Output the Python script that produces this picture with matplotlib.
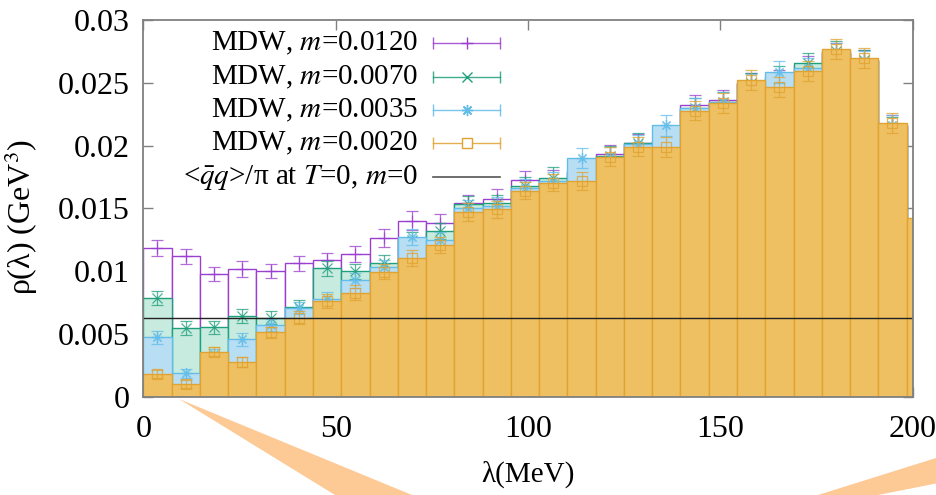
import numpy as np
import matplotlib
matplotlib.use("Agg")
import matplotlib.pyplot as plt
from matplotlib.patches import Polygon

plt.rcParams['font.family'] = ['Liberation Serif', 'DejaVu Serif']
plt.rcParams['mathtext.fontset'] = 'stix'

# bin width in MeV, histogram starts at lambda = 0
dlam = 7.35

# rho(lambda) per bin (GeV^3)
rho_m0120 = [0.01187, 0.01120, 0.00975, 0.01017, 0.01001, 0.01062, 0.01086, 0.01138,
             0.01266, 0.01400, 0.01381, 0.01540, 0.01578, 0.01726, 0.01730, 0.01800,
             0.01933, 0.02020, 0.02040, 0.02326, 0.02360, 0.02500, 0.02520, 0.02630,
             0.02740, 0.02680, 0.02160, 0.01400]
rho_m0070 = [0.00788, 0.00545, 0.00553, 0.00645, 0.00630, 0.00712, 0.01022, 0.01000,
             0.01062, 0.01250, 0.01320, 0.01532, 0.01540, 0.01680, 0.01742, 0.01780,
             0.01920, 0.02023, 0.02020, 0.02300, 0.02350, 0.02500, 0.02550, 0.02655,
             0.02750, 0.02680, 0.02150, 0.01400]
rho_m0035 = [0.00473, 0.00186, 0.00340, 0.00457, 0.00571, 0.00705, 0.00780, 0.00929,
             0.01030, 0.01270, 0.01248, 0.01500, 0.01520, 0.01660, 0.01720, 0.01903,
             0.01910, 0.02010, 0.02161, 0.02300, 0.02350, 0.02490, 0.02586, 0.02620,
             0.02740, 0.02670, 0.02160, 0.01400]
rho_m0020 = [0.00181, 0.00099, 0.00358, 0.00279, 0.00513, 0.00629, 0.00762, 0.00829,
             0.00996, 0.01102, 0.01208, 0.01473, 0.01492, 0.01641, 0.01705, 0.01718,
             0.01911, 0.01990, 0.01988, 0.02278, 0.02336, 0.02522, 0.02466, 0.02596,
             0.02767, 0.02695, 0.02177, 0.01420]

err_m0120 = [0.00064, 0.00060, 0.00055, 0.00060, 0.00055, 0.00060, 0.00060, 0.00065,
             0.00070, 0.00075, 0.00070, 0.00070, 0.00075, 0.00070, 0.00075, 0.00075,
             0.00075, 0.00075, 0.00080, 0.00075, 0.00080, 0.00080, 0.00080, 0.00080,
             0.00080, 0.00080, 0.00080, 0.00080]
err_m0070 = [0.00056, 0.00055, 0.00050, 0.00055, 0.00050, 0.00055, 0.00060, 0.00060,
             0.00065, 0.00065, 0.00065, 0.00065, 0.00070, 0.00070, 0.00090, 0.00075,
             0.00075, 0.00075, 0.00080, 0.00075, 0.00080, 0.00080, 0.00080, 0.00080,
             0.00080, 0.00080, 0.00080, 0.00080]
err_m0035 = [0.00050, 0.00035, 0.00040, 0.00050, 0.00045, 0.00050, 0.00055, 0.00060,
             0.00060, 0.00065, 0.00065, 0.00070, 0.00070, 0.00070, 0.00070, 0.00080,
             0.00075, 0.00075, 0.00085, 0.00075, 0.00080, 0.00080, 0.00085, 0.00080,
             0.00080, 0.00080, 0.00080, 0.00080]
err_m0020 = [0.00030, 0.00030, 0.00035, 0.00040, 0.00045, 0.00050, 0.00055, 0.00060,
             0.00060, 0.00065, 0.00065, 0.00070, 0.00070, 0.00070, 0.00070, 0.00075,
             0.00075, 0.00075, 0.00080, 0.00075, 0.00080, 0.00080, 0.00080, 0.00080,
             0.00080, 0.00080, 0.00080, 0.00080]

labels = ['MDW, $m$=0.0120', 'MDW, $m$=0.0070', 'MDW, $m$=0.0035', 'MDW, $m$=0.0020']
condensate = 0.00627   # <qbar q>/pi at T=0, m=0

x_ticks = [0, 50, 100, 150, 200]
y_ticks = [0, 0.005, 0.01, 0.015, 0.02, 0.025, 0.03]
y_ticklabels = ['0', '0.005', '0.01', '0.015', '0.02', '0.025', '0.03']

series = [
    (rho_m0120, err_m0120, 'white', '#9b3fd0', '+', 8),
    (rho_m0070, err_m0070, '#c8ebdf', '#1f9f7c', 'x', 7),
    (rho_m0035, err_m0035, '#b8def4', '#62bde9', (8, 2, 0), 8),
    (rho_m0020, err_m0020, '#efc062', '#e0a230', 's', 7),
]

fig = plt.figure(figsize=(9.37, 4.95), dpi=100)
ax = fig.add_axes([0.1530, 0.1986, 0.8209, 0.7610])

z = 2
for vals, errs, fill, col, mk, ms in series:
    left = np.arange(len(vals)) * dlam
    ax.bar(left, vals, width=dlam, align='edge', color=fill, edgecolor=col,
           linewidth=1.0, zorder=z)
    ax.errorbar(left + dlam / 2, vals, yerr=errs, fmt='none', ecolor=col,
                elinewidth=0.9, capsize=4, capthick=0.9, alpha=0.75, zorder=z + 1)
    ax.plot(left + dlam / 2, vals, linestyle='none', marker=mk, markersize=ms,
            markerfacecolor='none', markeredgecolor=col, markeredgewidth=0.9,
            alpha=0.8, zorder=z + 1)
    z += 2

ax.axhline(condensate, color='#222222', linewidth=1.0, zorder=20)

ax.set_xlim(0, 200)
ax.set_ylim(0, 0.03)
ax.set_xticks(x_ticks)
ax.set_yticks(y_ticks)
ax.set_yticklabels(y_ticklabels)
ax.tick_params(direction='in', top=True, right=True, length=7, width=1.0,
               color='#808080', labelsize=23)
ax.tick_params(axis='x', pad=13)
ax.tick_params(axis='y', pad=10)
for s in ax.spines.values():
    s.set_color('#808080')
    s.set_linewidth(1.3)
    s.set_zorder(25)

ax.set_xlabel('λ(MeV)', fontsize=21)
ax.xaxis.set_label_coords(0.5, -0.17)
ax.set_ylabel('ρ(λ) (GeV$^3$)', fontsize=23)
ax.yaxis.set_label_coords(-0.135, 0.477)

# gnuplot-style key: right-aligned text, sample on the right
key_y = [0.939, 0.848, 0.761, 0.673, 0.583]
tx, x0, x1 = 0.357, 0.3766, 0.4637
for (vals, errs, fill, col, mk, ms), lab, ky in zip(series, labels, key_y):
    ax.text(tx, ky, lab, transform=ax.transAxes, ha='right', va='center',
            fontsize=21, zorder=30)
    ax.plot([x0, x1], [ky, ky], color=col, lw=1.0, transform=ax.transAxes,
            zorder=30, alpha=0.85)
    ax.plot([x0, x1], [ky, ky], linestyle='none', marker='|', markersize=8,
            color=col, transform=ax.transAxes, zorder=30, alpha=0.85)
    ax.plot([(x0 + x1) / 2], [ky], linestyle='none', marker=mk, markersize=ms,
            markerfacecolor='white' if mk == 's' else 'none', markeredgecolor=col,
            transform=ax.transAxes, zorder=31)
ax.text(tx, key_y[4], '<$\\bar{q}q$>/π at $T$=0, $m$=0', transform=ax.transAxes,
        ha='right', va='center', fontsize=21, zorder=30)
ax.plot([x0, x1], [key_y[4], key_y[4]], color='#555555', lw=1.2,
        transform=ax.transAxes, zorder=30)

# orange callout wedges from the slide
W, H = 937.0, 495.0
wedges = [
    [(179, 399), (335, 495), (412, 495)],
    [(818, 495), (937, 457.7), (937, 483.3), (878, 495)],
]
for pts in wedges:
    fig.patches.append(Polygon([(px / W, 1 - py / H) for px, py in pts], closed=True,
                               transform=fig.transFigure, facecolor='#fdc995',
                               edgecolor='none', zorder=0))

fig.savefig('out.png', dpi=100)
